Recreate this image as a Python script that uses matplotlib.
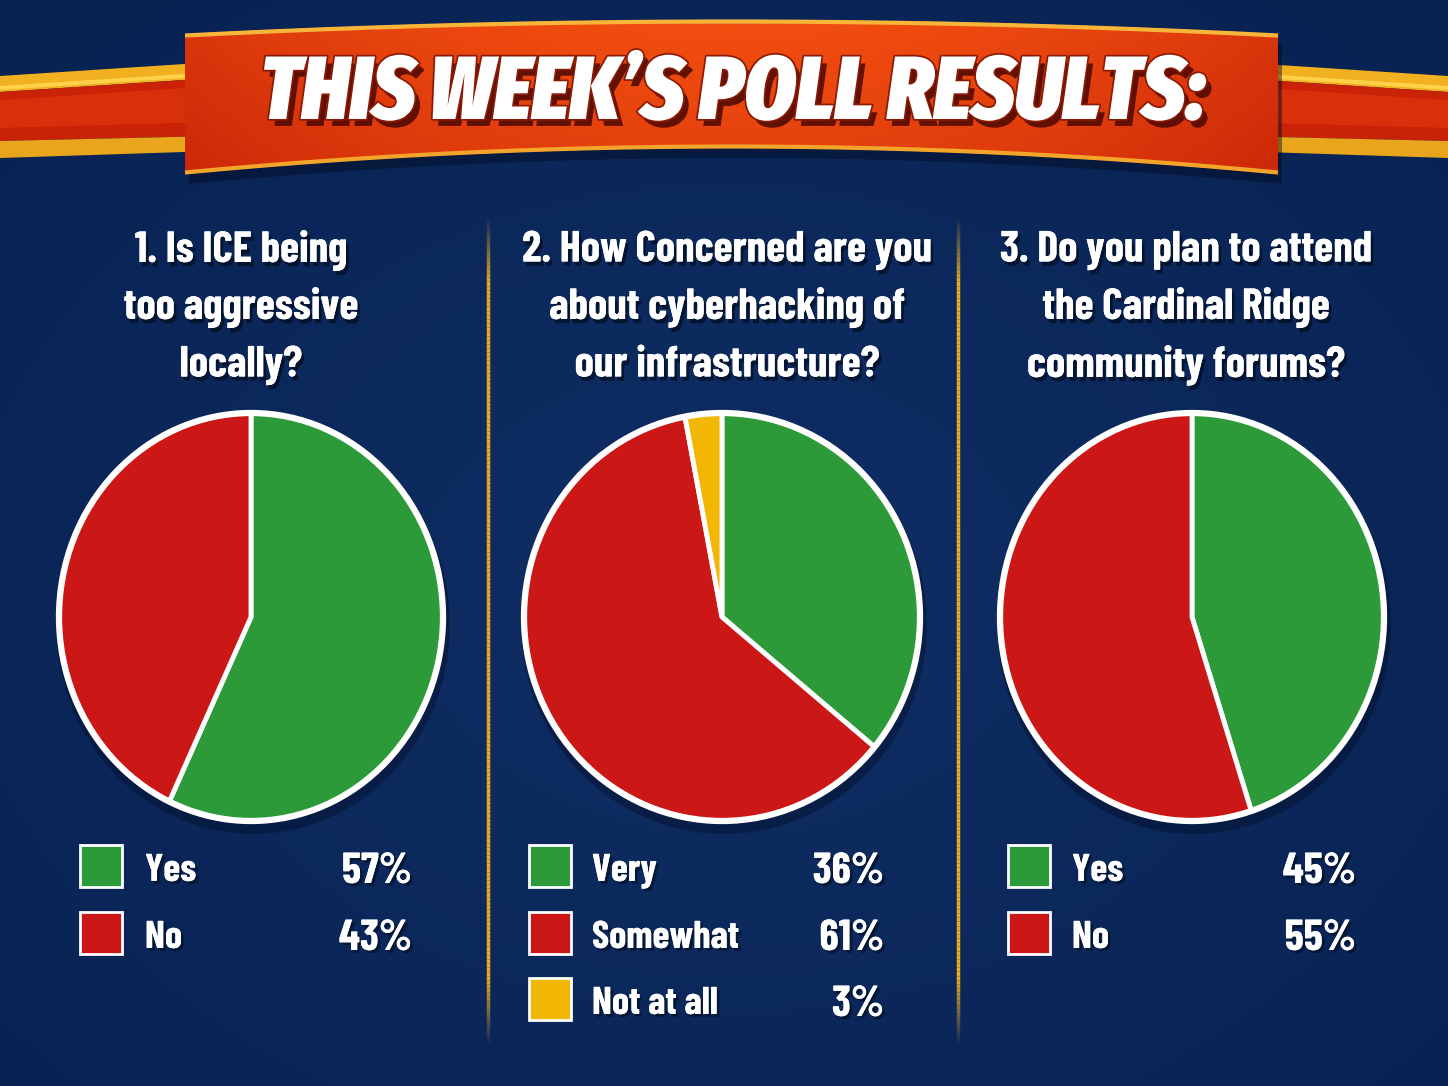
import matplotlib
matplotlib.use("Agg")
import matplotlib.pyplot as plt
import numpy as np
from matplotlib import font_manager as fm
from matplotlib.patches import Polygon, Rectangle, Ellipse, Circle
from matplotlib.collections import LineCollection
import matplotlib.patheffects as pe

# ---------------- data ----------------
title = "THIS WEEK\u2019S POLL RESULTS:"
questions = [
    ["1. Is ICE being", "too aggressive", "locally?"],
    ["2. How Concerned are you", "about cyberhacking of", "our infrastructure?"],
    ["3. Do you plan to attend", "the Cardinal Ridge", "community forums?"],
]
q1_labels = ["Yes", "No"]
q1_values = [57, 43]
q2_labels = ["Very", "Somewhat", "Not at all"]
q2_values = [36, 61, 3]
q3_labels = ["Yes", "No"]
q3_values = [45, 55]

GREEN, RED, YELLOW = "#2c9a38", "#cc1717", "#f2b705"
q1_colors = [GREEN, RED]
q2_colors = [GREEN, RED, YELLOW]
q3_colors = [GREEN, RED]

# ---------------- fonts ----------------
names = {f.name for f in fm.fontManager.ttflist}
def pick(cands):
    return next(c for c in cands if c in names)
FONT = pick(["Barlow Condensed", "Roboto Condensed", "DejaVu Sans"])
TFONT = pick(["Fira Sans Extra Condensed", "Barlow Condensed", "Roboto Condensed", "DejaVu Sans"])

W, H = 1448, 1086
fig = plt.figure(figsize=(W / 100, H / 100), dpi=100)
bg = fig.add_axes([0, 0, 1, 1])
bg.set_xlim(0, W)
bg.set_ylim(H, 0)
bg.axis("off")

# background with soft vignette
yy, xx = np.mgrid[0:H:4, 0:W:4]
d = np.sqrt(((xx - W / 2) / (W * 0.7)) ** 2 + ((yy - H * 0.55) / (H * 0.7)) ** 2)
c_in = np.array([0x10, 0x2f, 0x66]) / 255
c_out = np.array([0x08, 0x22, 0x52]) / 255
t = np.clip(d, 0, 1)[..., None]
img = c_in * (1 - t) + c_out * t
bg.imshow(img, extent=[0, W, H, 0], zorder=0, aspect="auto")

# ---------------- banner ----------------
def band(x0, x1, y0a, y0b, y1a, y1b, color, z):
    bg.add_patch(Polygon([(x0, y0a), (x1, y1a), (x1, y1b), (x0, y0b)],
                         closed=True, fc=color, ec="none", zorder=z))

for sgn, x0 in ((1, 0), (-1, W)):
    x1 = x0 + sgn * 215
    band(x0, x1, 76, 92, 62, 78, "#f0b020", 2)
    band(x0, x1, 92, 141, 78, 136, "#c92207", 2)
    band(x0, x1, 141, 158, 136, 151, "#e9a51c", 2)
    band(x0, x1, 86, 90, 72, 76, "#ffd24a", 2.1)
    band(x0, x1, 100, 128, 86, 122, "#d8300a", 2.05)
    band(x0 + sgn * 185, x0 + sgn * 225, 70, 150, 68, 148, "#7a1004", 2.5)

xs = np.linspace(185, 1278, 300)
u = (xs - 731.5) / 546.5
top = 20 + 14 * u ** 2
bot = 148 + 26 * u ** 2
sh = np.concatenate([np.c_[xs + 4, top + 10], np.c_[xs[::-1] + 4, bot[::-1] + 10]])
bg.add_patch(Polygon(sh, closed=True, fc="#020a1e", ec="none", alpha=0.45, zorder=2.8))
poly = np.concatenate([np.c_[xs, top], np.c_[xs[::-1], bot[::-1]]])
ban = Polygon(poly, closed=True, fc="#e23c0c", ec="none", zorder=3)
bg.add_patch(ban)
gx = np.linspace(-1, 1, 300)
gy = np.linspace(0, 1, 60)
GX, GY = np.meshgrid(gx, gy)
ca = np.array([0xf2, 0x4e, 0x10]) / 255
cb = np.array([0xc8, 0x24, 0x08]) / 255
tt = np.clip(0.55 * GX ** 2 + 0.35 * GY, 0, 1)[..., None]
gimg = ca * (1 - tt) + cb * tt
im = bg.imshow(gimg, extent=[185, 1278, 175, 18], zorder=3.1, aspect="auto")
im.set_clip_path(ban)
bg.plot(xs, top + 1.5, color="#f7b53a", lw=3, zorder=3.3, solid_capstyle="butt")
bg.plot(xs, bot - 1.5, color="#f2a52a", lw=3, zorder=3.3, solid_capstyle="butt")

ttl = bg.text(733, 95, title, color="white", ha="center", va="center",
              fontfamily=TFONT, fontweight=900, fontstyle="italic", fontsize=84,
              zorder=4,
              path_effects=[pe.withSimplePatchShadow(offset=(4, -5), shadow_rgbFace="#4a0800", alpha=0.85),
                            pe.Stroke(linewidth=2.5, foreground="#8a1a05"), pe.Normal()])

# ---------------- dividers ----------------
for xd in (488, 958):
    ys = np.linspace(215, 1042, 200)
    segs = [[(xd, ys[i]), (xd, ys[i + 1])] for i in range(len(ys) - 1)]
    tpos = (ys[:-1] - 215) / (1042 - 215)
    alpha = np.clip(np.minimum(tpos, 1 - tpos) / 0.08, 0, 1)
    cols = [(0.93, 0.68, 0.12, a) for a in alpha]
    bg.add_collection(LineCollection(segs, colors=cols, linewidths=2.5, zorder=2))

# ---------------- questions ----------------
q_x = [241, 727, 1186]
q_y = [246, 303, 361]
q_targets = [243, 410, 382]
shadow = [pe.withSimplePatchShadow(offset=(2, -3), shadow_rgbFace="#000814", alpha=0.6), pe.Normal()]
qtexts = []
for x, lines in zip(q_x, questions):
    col = []
    for y, ln in zip(q_y, lines):
        col.append(bg.text(x, y, ln, color="white", ha="center", va="center_baseline",
                           fontfamily=FONT, fontweight="bold", fontsize=37, zorder=4,
                           path_effects=shadow))
    qtexts.append(col)

# ---------------- pies ----------------
pies = [
    (251, 617, 192, 204, q1_values, q1_colors),
    (722, 617, 198, 204, q2_values, q2_colors),
    (1192, 617, 192, 204, q3_values, q3_colors),
]
for cx, cy, rx, ry, vals, cols in pies:
    bg.add_patch(Ellipse((cx + 2, cy + 8), 2 * rx + 10, 2 * ry + 10, fc="#01081a",
                         ec="none", alpha=0.35, zorder=1))
    m = 1.04
    ax = fig.add_axes([(cx - rx * m) / W, 1 - (cy + ry * m) / H, 2 * rx * m / W, 2 * ry * m / H])
    ax.pie(vals, colors=cols, startangle=90, counterclock=False, radius=1,
           wedgeprops=dict(edgecolor="white", linewidth=3.5))
    ax.add_patch(Circle((0, 0), 1.0, fc="none", ec="white", lw=4.5))
    ax.set_xlim(-m, m)
    ax.set_ylim(-m, m)
    ax.set_aspect("auto")
    ax.axis("off")

# ---------------- legends ----------------
legends = [
    (80, 145, 412, q1_labels, q1_values, q1_colors),
    (529, 592, 884, q2_labels, q2_values, q2_colors),
    (1008, 1072, 1356, q3_labels, q3_values, q3_colors),
]
row_y = [866, 933, 999]
labtexts, pcttexts = [], []
sh2 = [pe.withSimplePatchShadow(offset=(2, -2), shadow_rgbFace="#000814", alpha=0.5), pe.Normal()]
for sx, lx, px, labs, vals, cols in legends:
    for i, (lab, v, c) in enumerate(zip(labs, vals, cols)):
        y = row_y[i]
        bg.add_patch(Rectangle((sx, y - 21), 42, 42, fc=c, ec="white", lw=2, zorder=4))
        labtexts.append(bg.text(lx, y + 15, lab, color="white", ha="left", va="baseline",
                                fontfamily=FONT, fontweight="bold", fontsize=31, zorder=4,
                                path_effects=sh2))
        pcttexts.append(bg.text(px, y + 17, f"{v}%", color="white", ha="right", va="baseline",
                                fontfamily=FONT, fontweight="bold", fontsize=35, zorder=4,
                                path_effects=sh2))

# ---------------- fit texts to reference widths ----------------
fig.canvas.draw()
r = fig.canvas.get_renderer()

def fit(t, target):
    w = t.get_window_extent(r).width
    if w > target:
        t.set_fontsize(t.get_fontsize() * target / w)

fit(ttl, 945)
sizes = []
for col, tw in zip(qtexts, q_targets):
    w = max(t.get_window_extent(r).width for t in col)
    sizes.append(col[0].get_fontsize() * min(1, tw / w))
qs = min(sizes)
for col in qtexts:
    for t in col:
        t.set_fontsize(qs)
som = labtexts[3]
w = som.get_window_extent(r).width
ls = som.get_fontsize() * min(1, 147 / w)
for t in labtexts:
    t.set_fontsize(ls)
w = pcttexts[0].get_window_extent(r).width
ps = pcttexts[0].get_fontsize() * min(1, 70 / w)
for t in pcttexts:
    t.set_fontsize(ps)

fig.savefig("out.png", dpi=100)
